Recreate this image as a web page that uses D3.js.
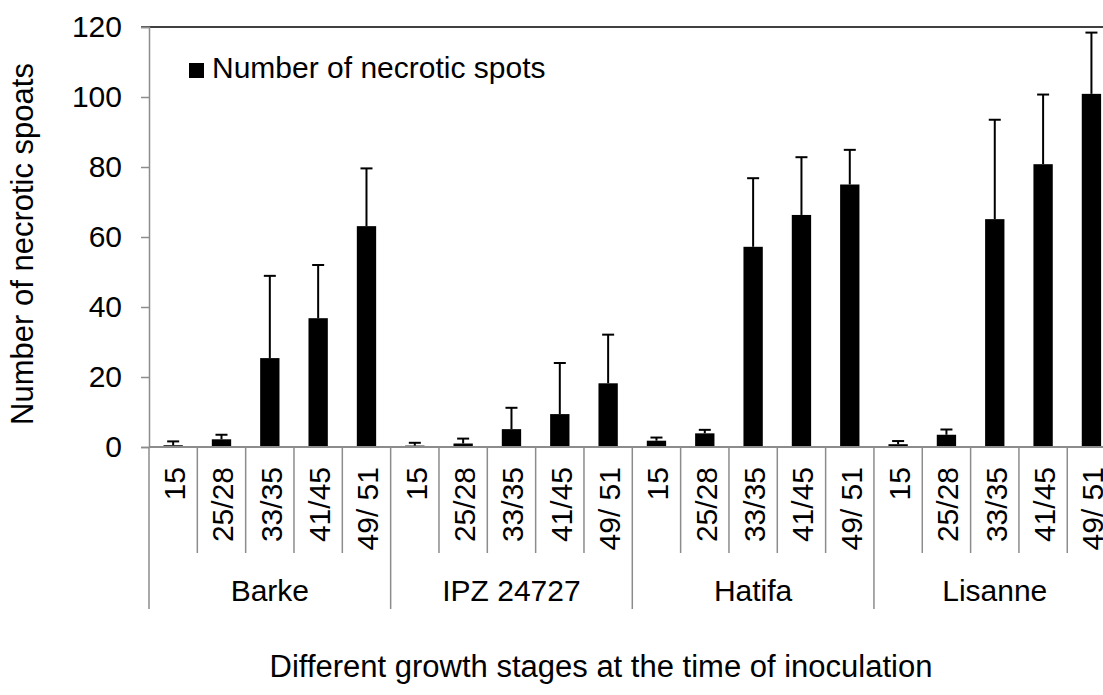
<!DOCTYPE html>
<html>
<head>
<meta charset="utf-8">
<script src="https://cdn.jsdelivr.net/npm/d3@7"></script>
<style>
  html, body { margin: 0; padding: 0; background: #fff; }
  svg { display: block; font-family: "Liberation Sans", Arial, sans-serif; }
</style>
</head>
<body>
<svg id="chart" width="1103" height="695"></svg>
<script>
// Cultivars and growth stages at the time of inoculation
const cultivars = ["Barke", "IPZ 24727", "Hatifa", "Lisanne"];
const stages = ["15", "25/28", "33/35", "41/45", "49/ 51"];

// Mean number of necrotic spots per cultivar (one value per stage)
const barkeMeans    = [0.5, 2.2, 25.4, 36.8, 63.1];
const ipzMeans      = [0.4, 1.0, 5.1, 9.4, 18.2];
const hatifaMeans   = [1.8, 3.9, 57.2, 66.3, 75.0];
const lisanneMeans  = [0.8, 3.5, 65.1, 80.8, 100.9];

// Standard errors (upper whisker only)
const barkeErr   = [1.1, 1.3, 23.5, 15.2, 16.5];
const ipzErr     = [0.8, 1.4, 6.1, 14.6, 13.9];
const hatifaErr  = [0.9, 1.0, 19.6, 16.5, 9.9];
const lisanneErr = [0.9, 1.5, 28.4, 19.9, 17.5];

const yTicks = [0, 20, 40, 60, 80, 100, 120];

const meansByCultivar = [barkeMeans, ipzMeans, hatifaMeans, lisanneMeans];
const errByCultivar = [barkeErr, ipzErr, hatifaErr, lisanneErr];

const rows = [];
cultivars.forEach((c, i) => {
  stages.forEach((s, j) => {
    rows.push({ key: c + "|" + s, cultivar: c, stage: s,
                value: meansByCultivar[i][j], err: errByCultivar[i][j] });
  });
});

const svg = d3.select("#chart");
const plotLeft = 149, plotTop = 27, plotBottom = 447;
const step = 48.33;
const axisGrey = "#8c8c8c";
const fs = 30;

const x = d3.scaleBand()
  .domain(rows.map(d => d.key))
  .range([plotLeft, plotLeft + step * rows.length])
  .padding(0);

const y = d3.scaleLinear().domain([0, 120]).range([plotBottom, plotTop]);

const barW = x.bandwidth() * 0.4;

// Top border of plot area
svg.append("line")
  .attr("x1", plotLeft - 8).attr("x2", 1103)
  .attr("y1", y(120)).attr("y2", y(120))
  .attr("stroke", "#000").attr("stroke-width", 1.5);

// Y axis
const yAxis = d3.axisLeft(y).tickValues(yTicks).tickSize(8).tickPadding(19);
const gy = svg.append("g").attr("transform", `translate(${plotLeft},0)`).call(yAxis);
gy.select(".domain").attr("stroke", axisGrey).attr("stroke-width", 1.5);
gy.selectAll(".tick line").attr("stroke", axisGrey).attr("stroke-width", 1.5);
gy.selectAll(".tick text").attr("font-size", fs).attr("fill", "#000")
  .attr("font-family", "Liberation Sans, Arial, sans-serif");

// Bars
svg.append("g").selectAll("rect").data(rows).join("rect")
  .attr("x", d => x(d.key) + (x.bandwidth() - barW) / 2)
  .attr("width", barW)
  .attr("y", d => y(d.value))
  .attr("height", d => y(0) - y(d.value))
  .attr("fill", "#000");

// Error bars (upper only)
const eb = svg.append("g").attr("stroke", "#000").attr("stroke-width", 2);
eb.selectAll("line.v").data(rows).join("line").attr("class", "v")
  .attr("x1", d => x(d.key) + x.bandwidth() / 2)
  .attr("x2", d => x(d.key) + x.bandwidth() / 2)
  .attr("y1", d => y(d.value))
  .attr("y2", d => y(d.value + d.err));
eb.selectAll("line.cap").data(rows).join("line").attr("class", "cap")
  .attr("x1", d => x(d.key) + x.bandwidth() / 2 - 6)
  .attr("x2", d => x(d.key) + x.bandwidth() / 2 + 6)
  .attr("y1", d => y(d.value + d.err))
  .attr("y2", d => y(d.value + d.err));

// Baseline
svg.append("line")
  .attr("x1", plotLeft).attr("x2", 1103)
  .attr("y1", y(0)).attr("y2", y(0))
  .attr("stroke", axisGrey).attr("stroke-width", 2);

// Category separators: stage ticks reach the stage row, cultivar ticks reach the cultivar row
const sep = svg.append("g").attr("stroke", axisGrey).attr("stroke-width", 1.5);
rows.forEach((d, i) => {
  const isGroup = i % stages.length === 0;
  sep.append("line")
    .attr("x1", x(d.key)).attr("x2", x(d.key))
    .attr("y1", y(0)).attr("y2", isGroup ? 609 : 553);
});

// Stage labels (rotated)
svg.append("g").selectAll("text").data(rows).join("text")
  .attr("transform", d => `translate(${x(d.key) + x.bandwidth() / 2 + 1},467) rotate(-90)`)
  .attr("text-anchor", "end")
  .attr("dy", "0.36em")
  .attr("font-size", fs)
  .text(d => d.stage);

// Cultivar labels
svg.append("g").selectAll("text").data(cultivars).join("text")
  .attr("x", c => x(c + "|" + stages[0]) + step * stages.length / 2)
  .attr("y", 601)
  .attr("text-anchor", "middle")
  .attr("font-size", fs)
  .text(c => c);

// Legend
svg.append("rect").attr("x", 189).attr("y", 63).attr("width", 15).attr("height", 15).attr("fill", "#000");
svg.append("text").attr("x", 212).attr("y", 78).attr("font-size", fs).text("Number of necrotic spots");

// Axis titles
svg.append("text")
  .attr("transform", "translate(33,244) rotate(-90)")
  .attr("text-anchor", "middle")
  .attr("font-size", 31)
  .text("Number of necrotic spoats");

svg.append("text")
  .attr("x", 601).attr("y", 677)
  .attr("text-anchor", "middle")
  .attr("font-size", 31)
  .text("Different growth stages at the time of inoculation");
</script>
</body>
</html>
